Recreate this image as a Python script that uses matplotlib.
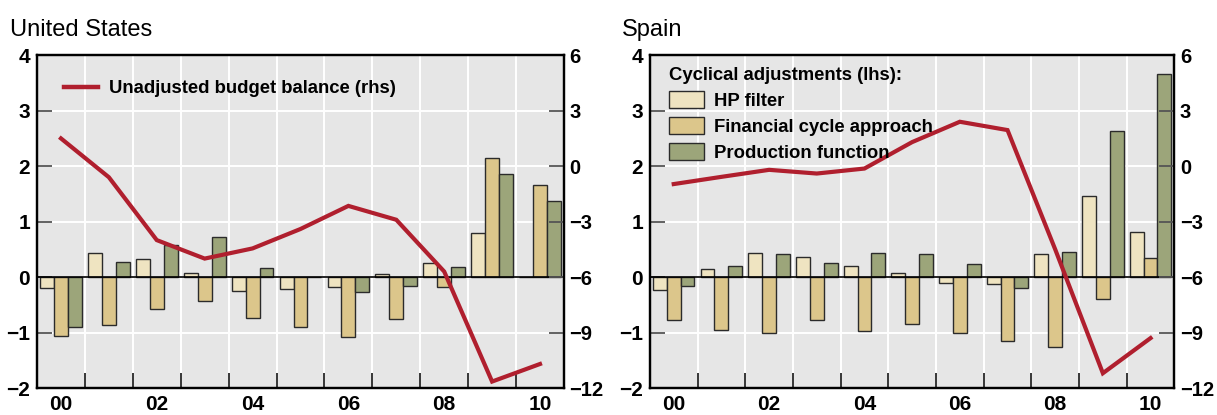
import numpy as np
import matplotlib.pyplot as plt
from matplotlib.lines import Line2D
from matplotlib.patches import Patch

# Data
years = ['00', '01', '02', '03', '04', '05', '06', '07', '08', '09', '10']
year_labels = ['00', '02', '04', '06', '08', '10']

# United States, cyclical adjustments (lhs)
us_hp = [-0.20, 0.44, 0.32, 0.08, -0.25, -0.22, -0.17, 0.06, 0.25, 0.80, 0.0]
us_fin = [-1.06, -0.86, -0.58, -0.43, -0.74, -0.90, -1.08, -0.76, -0.17, 2.14, 1.66]
us_prod = [-0.90, 0.28, 0.58, 0.73, 0.17, 0.0, -0.26, -0.16, 0.18, 1.85, 1.37]
# unadjusted budget balance (rhs)
us_balance = [1.5, -0.6, -4.0, -5.0, -4.45, -3.4, -2.15, -2.9, -5.7, -11.65, -10.7]

# Spain
es_hp = [-0.23, 0.15, 0.44, 0.37, 0.20, 0.07, -0.10, -0.13, 0.41, 1.46, 0.82]
es_fin = [-0.77, -0.96, -1.00, -0.77, -0.97, -0.85, -1.00, -1.15, -1.26, -0.40, 0.35]
es_prod = [-0.16, 0.20, 0.41, 0.25, 0.43, 0.42, 0.23, -0.19, 0.45, 2.63, 3.67]
es_balance = [-0.97, -0.58, -0.2, -0.4, -0.13, 1.3, 2.4, 1.95, -4.5, -11.2, -9.3]

# Style
col_hp = '#efe4c1'
col_fin = '#dcc68b'
col_prod = '#9ca57a'
col_line = '#b01f2e'
bg = '#e6e6e6'

plt.rcParams['font.family'] = ['Liberation Sans', 'DejaVu Sans']


def draw_panel(ax, title, hp, fin, prod, balance, title_x):
    x = np.arange(len(years))
    w = 0.29
    ax.set_facecolor(bg)
    ax.bar(x - w, hp, w, color=col_hp, edgecolor='#2b2b2b', linewidth=1, zorder=3)
    ax.bar(x, fin, w, color=col_fin, edgecolor='#2b2b2b', linewidth=1, zorder=3)
    ax.bar(x + w, prod, w, color=col_prod, edgecolor='#2b2b2b', linewidth=1, zorder=3)
    ax.axhline(0, color='black', linewidth=1.2, zorder=4)

    ax.set_xlim(-0.5, 10.5)
    ax.set_ylim(-2, 4)
    ax.set_yticks(range(-2, 5))
    ax.set_xticks(x[::2])
    ax.set_xticklabels(year_labels)
    ax.set_xticks(np.arange(0.5, 10.5, 1), minor=True)
    ax.grid(True, which='minor', axis='x', color='white', linewidth=1.4, zorder=1)
    ax.grid(True, which='major', axis='y', color='white', linewidth=1.4, zorder=1)
    ax.grid(False, which='major', axis='x')
    ax.tick_params(axis='x', which='major', length=0, pad=5, labelsize=15)
    ax.tick_params(axis='x', which='minor', direction='in', length=11,
                   width=1.1, color='black')
    ax.tick_params(axis='y', direction='in', length=11, width=1.3,
                   color='#555555', pad=5, labelsize=15)
    for lab in ax.get_xticklabels() + ax.get_yticklabels():
        lab.set_fontweight('bold')

    ax2 = ax.twinx()
    ax2.plot(x, balance, color=col_line, linewidth=3, zorder=5,
             solid_joinstyle='miter')
    ax2.set_ylim(-12, 6)
    ax2.set_yticks(range(-12, 7, 3))
    ax2.tick_params(axis='y', direction='in', length=11, width=1.3,
                    color='#555555', pad=4, labelsize=14.5)
    for lab in ax2.get_yticklabels():
        lab.set_fontweight('bold')

    for a in (ax, ax2):
        for s in a.spines.values():
            s.set_linewidth(1.6)
            s.set_color('black')

    fig.text(title_x, 0.913, title, fontsize=17, ha='left', va='baseline')
    return ax2


fig = plt.figure(figsize=(12.17, 4.15), dpi=100)
ax_us = fig.add_axes([0.0304, 0.065, 0.433, 0.802])
ax_es = fig.add_axes([0.534, 0.065, 0.431, 0.802])

ax2_us = draw_panel(ax_us, 'United States', us_hp, us_fin, us_prod, us_balance, 0.008)
ax2_es = draw_panel(ax_es, 'Spain', es_hp, es_fin, es_prod, es_balance, 0.511)

# legends
line_handle = Line2D([], [], color=col_line, linewidth=3.2)
ax2_us.legend([line_handle], ['Unadjusted budget balance (rhs)'],
              loc='upper left', bbox_to_anchor=(0.02, 0.975), frameon=False,
              handlelength=1.85, handletextpad=0.6,
              prop={'weight': 'bold', 'size': 13.3})

bar_handles = [Patch(facecolor=c, edgecolor='#2b2b2b', linewidth=1)
               for c in (col_hp, col_fin, col_prod)]
leg = ax2_es.legend(bar_handles, ['HP filter', 'Financial cycle approach', 'Production function'],
                    loc='upper left', bbox_to_anchor=(0.005, 1.015), frameon=False,
                    title='Cyclical adjustments (lhs):', alignment='left',
                    title_fontproperties={'weight': 'bold', 'size': 13.3},
                    handlelength=1.9, handleheight=1.0, handletextpad=0.55,
                    labelspacing=0.4, prop={'weight': 'bold', 'size': 13.3})

fig.savefig('out.png', dpi=100)
